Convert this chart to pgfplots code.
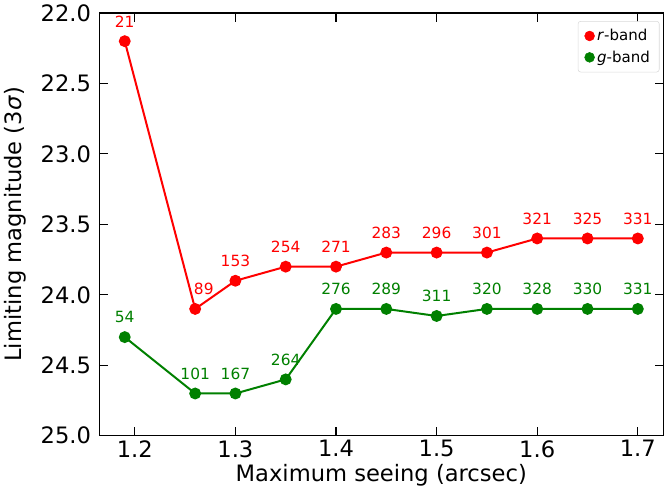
\documentclass[border=0pt]{standalone}
\usepackage{fontspec}
\setmainfont{DejaVu Sans}
\usepackage{pgfplots}
\usepackage{pgfplotstable}
\pgfplotsset{compat=1.18}
\definecolor{mplgreen}{RGB}{0,128,0}
\definecolor{mplred}{RGB}{255,0,0}

\pgfplotstableread{
x y n dx
1.19 22.2 21 0
1.26 24.1 89 6.5
1.30 23.9 153 0
1.35 23.8 254 0
1.40 23.8 271 0
1.45 23.7 283 0
1.50 23.7 296 0
1.55 23.7 301 0
1.60 23.6 321 0
1.65 23.6 325 0
1.70 23.6 331 0
}\rband
\pgfplotstableread{
x y n dx
1.19 24.3 54 0
1.26 24.7 101 0
1.30 24.7 167 0
1.35 24.6 264 0
1.40 24.1 276 0
1.45 24.1 289 0
1.50 24.15 311 0
1.55 24.1 320 0
1.60 24.1 328 0
1.65 24.1 330 0
1.70 24.1 331 0
}\gband

\begin{document}
\begin{tikzpicture}
\begin{axis}[
  scale only axis,
  width=424.5pt, height=318pt,
  xmin=1.1645, xmax=1.7255,
  ymin=22, ymax=25, y dir=reverse,
  xtick={1.2,1.3,1.4,1.5,1.6,1.7},
  ytick={22,22.5,23,23.5,24,24.5,25},
  tick align=inside, tick pos=both,
  major tick length=6.5pt,
  every tick/.style={black, line width=0.8pt},
  axis line style={line width=0.8pt},
  ticklabel style={font=\fontsize{17}{20}\selectfont},
  x tick label style={/pgf/number format/.cd, fixed, fixed zerofill, precision=1, assume math mode=true, /tikz/.cd},
  y tick label style={xshift=-2.5pt, /pgf/number format/.cd, fixed, fixed zerofill, precision=1, assume math mode=true, /tikz/.cd},
  xlabel={Maximum seeing (arcsec)},
  ylabel={Limiting magnitude (3\textit{σ})},
  label style={font=\fontsize{17}{20}\selectfont},
  ylabel style={yshift=4pt},
  xlabel style={yshift=2pt},
  clip=false,
  legend style={at={(0.993,0.981)}, anchor=north east, draw=black!15, rounded corners=2pt,
    font=\fontsize{11.3}{13}\selectfont, row sep=2pt, inner xsep=5pt, inner ysep=4pt},
  legend cell align=left,
  nodes near coords,
  point meta=explicit symbolic,
  visualization depends on={\thisrow{dx} \as \dx},
  nodes near coords style={font=\fontsize{11.6}{13}\selectfont, anchor=south, yshift=6.5pt, xshift=\dx pt},
]
\addplot[mplred, line width=1.5pt, mark=*, mark size=3.7pt, forget plot,
  nodes near coords style={mplred}] table[x=x, y=y, meta=n] {\rband};
\addplot[mplgreen, line width=1.5pt, mark=*, mark size=3.7pt, forget plot,
  nodes near coords style={mplgreen}] table[x=x, y=y, meta=n] {\gband};
\addlegendimage{only marks, mark=*, mark size=3.7pt, mplred}
\addlegendentry{\textit{r}-band}
\addlegendimage{only marks, mark=*, mark size=3.7pt, mplgreen}
\addlegendentry{\textit{g}-band}
\end{axis}
\end{tikzpicture}
\end{document}
